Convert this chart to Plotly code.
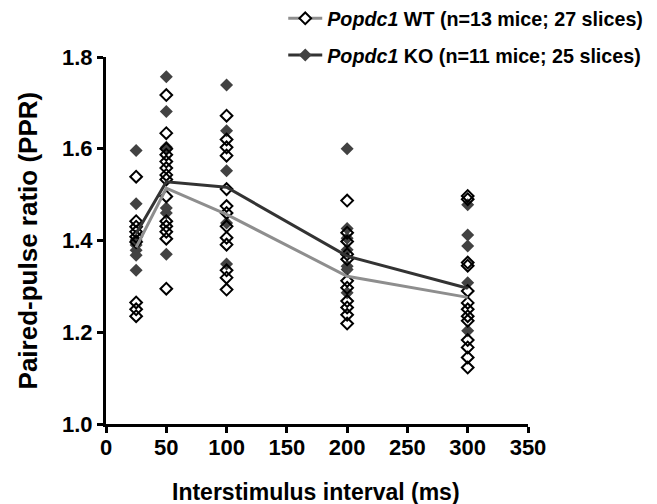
import plotly.graph_objects as go

# Interstimulus intervals (ms)
intervals = [25, 50, 100, 200, 300]

# Mean PPR per interval
wt_mean = [1.385, 1.514, 1.457, 1.322, 1.276]
ko_mean = [1.415, 1.528, 1.516, 1.366, 1.296]

# Individual slice values (WT, open diamonds)
wt_25 = [1.539, 1.442, 1.430, 1.419, 1.408, 1.397, 1.265, 1.250, 1.235]
wt_50 = [1.717, 1.634, 1.600, 1.587, 1.572, 1.558, 1.543, 1.533, 1.496, 1.442, 1.431, 1.419, 1.404, 1.295]
wt_100 = [1.672, 1.620, 1.603, 1.585, 1.512, 1.475, 1.460, 1.431, 1.406, 1.391, 1.335, 1.319, 1.293]
wt_200 = [1.487, 1.417, 1.398, 1.370, 1.359, 1.312, 1.297, 1.268, 1.254, 1.238, 1.219]
wt_300 = [1.497, 1.490, 1.352, 1.345, 1.290, 1.264, 1.250, 1.235, 1.225, 1.183, 1.167, 1.145, 1.123]

# Individual slice values (KO, filled diamonds)
ko_25 = [1.596, 1.480, 1.401, 1.390, 1.379, 1.368, 1.335]
ko_50 = [1.757, 1.681, 1.603, 1.471, 1.460, 1.370]
ko_100 = [1.739, 1.639, 1.552, 1.438, 1.349]
ko_200 = [1.600, 1.426, 1.405, 1.380, 1.344, 1.337, 1.286]
ko_300 = [1.478, 1.412, 1.388, 1.308, 1.203]

x_ticks = [0, 50, 100, 150, 200, 250, 300, 350]
y_ticks = [1.0, 1.2, 1.4, 1.6, 1.8]

wt_sets = [wt_25, wt_50, wt_100, wt_200, wt_300]
ko_sets = [ko_25, ko_50, ko_100, ko_200, ko_300]

def flatten(sets):
    xs, ys = [], []
    for x, vals in zip(intervals, sets):
        xs += [x] * len(vals)
        ys += vals
    return xs, ys

wt_x, wt_y = flatten(wt_sets)
ko_x, ko_y = flatten(ko_sets)

WT_LINE = "#8e8e8e"
KO_LINE = "#333333"
KO_FILL = "#424242"
FONT = "Liberation Sans, Arial, sans-serif"

fig = go.Figure()

fig.add_trace(go.Scatter(x=ko_x, y=ko_y, mode="markers", showlegend=False,
                         marker=dict(symbol="diamond", size=10, color=KO_FILL,
                                     line=dict(width=0))))
fig.add_trace(go.Scatter(x=wt_x, y=wt_y, mode="markers", showlegend=False,
                         marker=dict(symbol="diamond-open", size=9, color="black",
                                     line=dict(width=2))))
fig.add_trace(go.Scatter(x=intervals, y=wt_mean, mode="lines", showlegend=False,
                         line=dict(color=WT_LINE, width=3)))
fig.add_trace(go.Scatter(x=intervals, y=ko_mean, mode="lines", showlegend=False,
                         line=dict(color=KO_LINE, width=3)))

# legend entries
fig.add_trace(go.Scatter(x=[None], y=[None], mode="lines+markers",
                         name="<b><i>Popdc1</i> WT (n=13 mice; 27 slices)</b>",
                         legendgroup="wt",
                         line=dict(color=WT_LINE, width=3),
                         marker=dict(symbol="diamond", size=9, color="white",
                                     line=dict(color="black", width=2))))
fig.add_trace(go.Scatter(x=[None], y=[None], mode="lines+markers",
                         name="<b><i>Popdc1</i> KO (n=11 mice; 25 slices)</b>",
                         legendgroup="ko",
                         line=dict(color=KO_LINE, width=3),
                         marker=dict(symbol="diamond", size=10, color=KO_FILL)))

tick_font = dict(family=FONT, size=22, color="black")
title_font = dict(family=FONT, size=23, color="black")
ytitle_font = dict(family=FONT, size=26, color="black")

fig.update_layout(
    width=649, height=496,
    margin=dict(l=98, r=129, t=49, b=80, autoexpand=False),
    paper_bgcolor="white", plot_bgcolor="white",
    font=dict(family=FONT, color="black"),
    legend=dict(x=0.42, y=1.158, xanchor="left", yanchor="top",
                font=dict(size=19.7, family=FONT, color="black"),
                traceorder="grouped", tracegroupgap=8, itemwidth=34,
                bgcolor="rgba(0,0,0,0)"),
    xaxis=dict(range=[0, 350], tickvals=x_ticks,
               ticktext=["<b>%d</b>" % v for v in x_ticks],
               showline=True, linecolor="black", linewidth=3,
               ticks="outside", ticklen=6, tickwidth=3, tickcolor="black",
               ticklabelstandoff=-4,
               showgrid=False, zeroline=False, tickfont=tick_font, automargin=False),
    yaxis=dict(range=[1.0, 1.8], tickvals=y_ticks,
               ticktext=["<b>%.1f</b>" % v for v in y_ticks],
               showline=True, linecolor="black", linewidth=3,
               ticks="outside", ticklen=6, tickwidth=3, tickcolor="black",
               showgrid=False, zeroline=False, tickfont=tick_font, automargin=False),
    annotations=[
        dict(text="<b>Interstimulus interval (ms)</b>", xref="paper", yref="paper",
             x=0.4976, y=-0.185, xanchor="center", yanchor="middle",
             showarrow=False, font=title_font),
        dict(text="<b>Paired-pulse ratio (PPR)</b>", xref="paper", yref="paper",
             x=-0.185, y=0.5, xanchor="center", yanchor="middle", textangle=-90,
             showarrow=False, font=ytitle_font),
    ],
)

fig.write_html("out.html")
